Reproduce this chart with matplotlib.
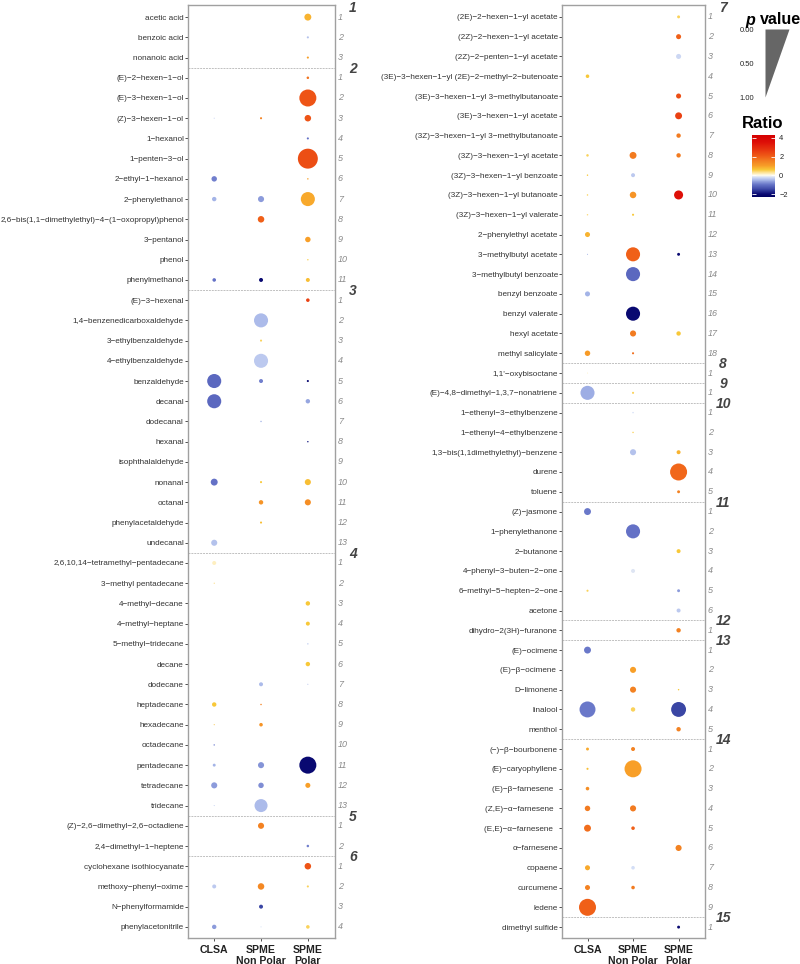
import numpy as np
import matplotlib
matplotlib.use('Agg')
import matplotlib.pyplot as plt
from matplotlib.colors import LinearSegmentedColormap, Normalize
from matplotlib.transforms import blended_transform_factory

plt.rcParams['font.family'] = ['Liberation Sans', 'DejaVu Sans']

methods = ['CLSA', 'SPME\nNon Polar', 'SPME\nPolar']
N = None

# ---- left panel: groups 1-6 ----
left_counts = [3, 11, 13, 13, 2, 4]
left_names = [
    'acetic acid', 'benzoic acid', 'nonanoic acid',
    '(E)-2-hexen-1-ol', '(E)-3-hexen-1-ol', '(Z)-3-hexen-1-ol', '1-hexanol', '1-penten-3-ol',
    '2-ethyl-1-hexanol', '2-phenylethanol', '2,6-bis(1,1-dimethylethyl)-4-(1-oxopropyl)phenol',
    '3-pentanol', 'phenol', 'phenylmethanol',
    '(E)-3-hexenal', '1,4-benzenedicarboxaldehyde', '3-ethylbenzaldehyde', '4-ethylbenzaldehyde',
    'benzaldehyde', 'decanal', 'dodecanal', 'hexanal', 'isophthalaldehyde', 'nonanal', 'octanal',
    'phenylacetaldehyde', 'undecanal',
    '2,6,10,14-tetramethyl-pentadecane', '3-methyl pentadecane', '4-methyl-decane', '4-methyl-heptane',
    '5-methyl-tridecane', 'decane', 'dodecane', 'heptadecane', 'hexadecane', 'octadecane',
    'pentadecane', 'tetradecane', 'tridecane',
    '(Z)-2,6-dimethyl-2,6-octadiene', '2,4-dimethyl-1-heptene',
    'cyclohexane isothiocyanate', 'methoxy-phenyl-oxime', 'N-phenylformamide', 'phenylacetonitrile',
]
# (CLSA, SPME non polar, SPME polar)
left_ratio = [
    (N, N, 0.8), (N, N, -0.4), (N, N, 1.0),
    (N, N, 1.7), (N, N, 2.2), (-0.3, 1.5, 2.2), (N, N, -1.0), (N, N, 2.3),
    (-0.9, N, 1.0), (-0.5, -0.7, 0.9), (N, 2.0, N),
    (N, N, 1.0), (N, N, 0.5), (-1.0, -2.0, 0.7),
    (N, N, 2.5), (N, -0.45, N), (N, 0.5, N), (N, -0.35, N),
    (-1.1, -0.9, -2.0), (-1.1, N, -0.6), (N, -0.5, N), (N, N, -1.8), (N, N, N), (-1.0, 0.6, 0.7), (N, 1.2, 1.3),
    (N, 0.7, N), (-0.4, N, N),
    (0.15, N, N), (0.5, N, N), (N, N, 0.6), (N, N, 0.6),
    (N, N, -0.3), (N, N, 0.6), (N, -0.45, -0.4), (0.6, 1.5, N), (0.7, 1.2, N), (-0.8, N, N),
    (-0.5, -0.75, -2.0), (-0.7, -0.8, 1.0), (-0.3, -0.45, N),
    (N, 1.5, N), (N, N, -0.9),
    (N, N, 2.2), (-0.35, 1.4, 0.5), (N, -1.5, N), (-0.7, -0.2, 0.5),
]
left_p = [
    (N, N, 0.67), (N, N, 0.90), (N, N, 0.90),
    (N, N, 0.88), (N, N, 0.19), (0.95, 0.90, 0.69), (N, N, 0.90), (N, N, 0.05),
    (0.74, N, 0.93), (0.79, 0.71, 0.33), (N, 0.69, N),
    (N, N, 0.74), (N, N, 0.93), (0.83, 0.81, 0.81),
    (N, N, 0.83), (N, 0.33, N), (N, 0.90, N), (N, 0.33, N),
    (0.33, 0.81, 0.90), (0.33, N, 0.79), (N, 0.93, N), (N, N, 0.93), (N, N, N), (0.67, 0.90, 0.71), (N, 0.79, 0.71),
    (N, 0.90, N), (0.71, N, N),
    (0.81, N, N), (0.95, N, N), (N, N, 0.79), (N, N, 0.81),
    (N, N, 0.93), (N, N, 0.79), (N, 0.81, 0.95), (0.79, 0.93, N), (0.95, 0.83, N), (0.93, N, N),
    (0.86, 0.71, 0.19), (0.71, 0.74, 0.76), (0.95, 0.38, N),
    (N, 0.71, N), (N, N, 0.88),
    (N, N, 0.69), (0.81, 0.69, 0.90), (N, 0.81, N), (0.79, 0.95, 0.83),
]

# ---- right panel: groups 7-15 ----
right_counts = [18, 1, 1, 5, 6, 1, 5, 9, 1]
right_names = [
    '(2E)-2-hexen-1-yl acetate', '(2Z)-2-hexen-1-yl acetate', '(2Z)-2-penten-1-yl acetate',
    '(3E)-3-hexen-1-yl (2E)-2-methyl-2-butenoate', '(3E)-3-hexen-1-yl 3-methylbutanoate',
    '(3E)-3-hexen-1-yl acetate', '(3Z)-3-hexen-1-yl 3-methylbutanoate', '(3Z)-3-hexen-1-yl acetate',
    '(3Z)-3-hexen-1-yl benzoate', '(3Z)-3-hexen-1-yl butanoate', '(3Z)-3-hexen-1-yl valerate',
    '2-phenylethyl acetate', '3-methylbutyl acetate', '3-methylbutyl benzoate', 'benzyl benzoate',
    'benzyl valerate', 'hexyl acetate', 'methyl salicylate',
    "1,1'-oxybisoctane",
    '(E)-4,8-dimethyl-1,3,7-nonatriene',
    '1-ethenyl-3-ethylbenzene', '1-ethenyl-4-ethylbenzene', '1,3-bis(1,1dimethylethyl)-benzene',
    'durene', 'toluene',
    '(Z)-jasmone', '1-phenylethanone', '2-butanone', '4-phenyl-3-buten-2-one',
    '6-methyl-5-hepten-2-one', 'acetone',
    'dihydro-2(3H)-furanone',
    '(E)-ocimene', '(E)-β-ocimene ', 'D-limonene', 'linalool', 'menthol',
    '(\u2212)-β-bourbonene', '(E)-caryophyllene', '(E)-β-farnesene  ', '(Z,E)-α-farnesene  ',
    '(E,E)-α-farnesene  ', 'α-farnesene', 'copaene', 'curcumene', 'ledene',
    'dimethyl sulfide',
]
right_ratio = [
    (N, N, 0.5), (N, N, 2.0), (N, N, -0.25),
    (0.6, N, N), (N, N, 2.3),
    (N, N, 2.5), (N, N, 1.6), (0.5, 1.6, 1.6),
    (0.6, -0.35, N), (0.5, 1.2, 3.5), (0.4, 0.6, N),
    (0.8, N, N), (-0.5, 2.0, -2.0), (N, -1.1, N), (-0.5, N, N),
    (N, -2.0, N), (N, 1.6, 0.6), (1.1, 1.8, N),
    (0.1, N, N),
    (-0.55, 0.5, N),
    (N, -0.2, N), (N, 0.5, N), (N, -0.4, 0.8),
    (N, N, 1.9), (N, N, 1.5),
    (-0.95, N, N), (N, -1.0, N), (N, N, 0.6), (N, -0.15, N),
    (0.5, N, -0.7), (N, N, -0.35),
    (N, N, 1.5),
    (-0.95, N, N), (N, 1.0, N), (N, 1.5, 0.6), (-0.95, 0.5, -1.5), (N, N, 1.5),
    (0.9, 1.5, N), (0.7, 1.0, N), (1.3, N, N), (1.6, 1.6, N),
    (1.8, 2.0, N), (N, N, 1.5), (0.9, -0.2, N), (1.5, 1.6, N), (2.0, N, N),
    (N, N, -2.0),
]
right_p = [
    (N, N, 0.86), (N, N, 0.76), (N, N, 0.76),
    (0.83, N, N), (N, N, 0.76),
    (N, N, 0.67), (N, N, 0.79), (0.88, 0.67, 0.79),
    (0.93, 0.81, N), (0.93, 0.69, 0.57), (0.93, 0.90, N),
    (0.76, N, N), (0.95, 0.33, 0.86), (N, 0.33, N), (0.76, N, N),
    (N, 0.33, N), (N, 0.71, 0.79), (0.74, 0.90, N),
    (0.95, N, N),
    (0.33, 0.90, N),
    (N, 0.93, N), (N, 0.93, N), (N, 0.71, 0.81),
    (N, N, 0.19), (N, N, 0.86),
    (0.67, N, N), (N, 0.33, N), (N, N, 0.81), (N, 0.81, N),
    (0.90, N, 0.86), (N, N, 0.81),
    (N, N, 0.79),
    (0.67, N, N), (N, 0.71, N), (N, 0.71, 0.93), (0.24, 0.79, 0.29), (N, N, 0.79),
    (0.86, 0.81, N), (0.90, 0.19, N), (0.83, N, N), (0.74, 0.71, N),
    (0.67, 0.83, N), (N, N, 0.71), (0.76, 0.83, N), (0.76, 0.83, N), (0.19, N, N),
    (N, N, 0.86),
]

# colour scale for the ratio
vmin, vmax = -2.3, 4.3
stops = [(-2.3, '#000060'), (-2.0, '#0a0a72'), (-1.5, '#3a46a4'), (-1.0, '#6472c6'),
         (-0.5, '#a6b6e8'), (-0.2, '#d4def6'), (0.0, '#fffbea'), (0.3, '#fde49a'),
         (0.6, '#f8c838'), (1.0, '#f8a028'), (1.5, '#f38222'), (2.0, '#f06018'),
         (2.5, '#ea4212'), (3.5, '#de1008'), (4.3, '#d40000')]
cmap = LinearSegmentedColormap.from_list(
    'ratio', [((v - vmin) / (vmax - vmin), c) for v, c in stops])
norm = Normalize(vmin, vmax)

DMAX = 21.0  # dot diameter in px for p = 0


def dot_size(p):
    d = DMAX * (1 - np.asarray(p, dtype=float))
    return (d * 0.72) ** 2


def draw_panel(ax, names, counts, first_group, ratio, pval):
    n = len(names)
    for j in range(3):
        rows = [i for i in range(n) if ratio[i][j] is not None]
        ax.scatter(np.full(len(rows), j + 1), rows,
                   s=dot_size([pval[i][j] for i in rows]),
                   c=[ratio[i][j] for i in rows], cmap=cmap, norm=norm,
                   edgecolors='none', zorder=3)

    ax.set_xlim(0.44, 3.58)
    ax.set_ylim(n - 0.45, -0.6)
    ax.set_xticks([1, 2, 3])
    ax.set_xticklabels(methods, fontsize=7.6, fontweight='bold', color='#222222',
                       linespacing=1.1)
    ax.set_yticks(range(n))
    ax.set_yticklabels([s.replace('-', '\u2212') for s in names], fontsize=5.85,
                       color='#333333')
    ax.tick_params(length=2, width=0.6, color='#333333', pad=1)
    ax.tick_params(axis='x', pad=3)
    for sp in ax.spines.values():
        sp.set_color('#a0a0a0')
        sp.set_linewidth(1.0)

    tr = blended_transform_factory(ax.transAxes, ax.transData)
    start = 0
    for g, c in enumerate(counts):
        if start > 0:
            ax.axhline(start - 0.5, color='#c0c0c0', lw=0.7, ls=(0, (2, 1)), zorder=1)
        ax.annotate(str(first_group + g), xy=(1, start - 0.45), xycoords=tr,
                    xytext=(13, 0), textcoords='offset points',
                    fontsize=10, fontweight='bold', style='italic', color='#444444',
                    ha='center', va='center', annotation_clip=False)
        for k in range(c):
            ax.annotate(str(k + 1), xy=(1, start + k), xycoords=tr,
                        xytext=(2, 0), textcoords='offset points', fontsize=6.5,
                        style='italic', color='#8a8a8a', ha='left', va='center')
        start += c


fig = plt.figure(figsize=(8, 9.64), dpi=100)
W, H = 800, 964


def px_rect(x0, y0, x1, y1):
    return [x0 / W, 1 - y1 / H, (x1 - x0) / W, (y1 - y0) / H]


ax1 = fig.add_axes(px_rect(188, 5, 335, 938))
draw_panel(ax1, left_names, left_counts, 1, left_ratio, left_p)
ax2 = fig.add_axes(px_rect(562, 5, 705, 938))
draw_panel(ax2, right_names, right_counts, 7, right_ratio, right_p)

# p value legend (triangle)
fig.text(745 / W, 1 - 20 / H, 'p', fontsize=11.5, fontweight='bold', style='italic',
         va='center', ha='left')
fig.text(760 / W, 1 - 20 / H, 'value', fontsize=11.5, fontweight='bold',
         va='center', ha='left')
lax = fig.add_axes(px_rect(765, 29, 789, 97))
pp = np.array([0.0, 1.0])
lax.fill_betweenx(pp, 0, 1 - pp, color='#666666', lw=0)
lax.set_ylim(1, 0)
lax.set_xlim(0, 1)
lax.set_yticks([0, 0.5, 1])
lax.set_yticklabels(['0.00', '0.50', '1.00'], fontsize=5.4, color='#222222')
lax.tick_params(length=0, pad=8)
lax.set_xticks([])
for sp in lax.spines.values():
    sp.set_visible(False)

# ratio colour bar
fig.text(742 / W, 1 - 124 / H, 'Ratio', fontsize=12, fontweight='bold',
         va='center', ha='left')
cax = fig.add_axes(px_rect(752, 135, 775, 197))
sm = plt.cm.ScalarMappable(norm=norm, cmap=cmap)
cb = fig.colorbar(sm, cax=cax, ticks=[-2, 0, 2, 4])
cb.outline.set_visible(False)
cb.ax.set_yticklabels(['\u22122', '0', '2', '4'], fontsize=5.4, color='#222222')
cb.ax.tick_params(direction='in', length=3, width=0.6, color='white',
                  left=True, right=True, pad=3)

fig.savefig('out.png', dpi=100)
